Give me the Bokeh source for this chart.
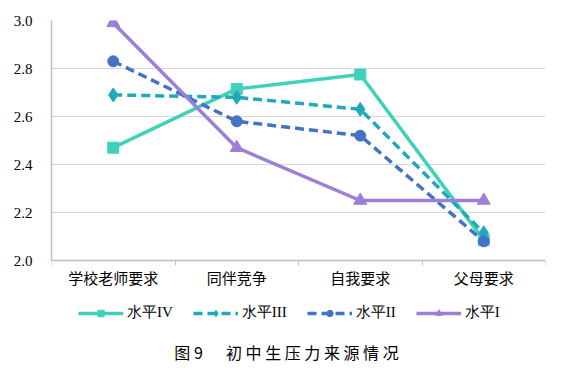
from bokeh.plotting import figure
from bokeh.models import (Range1d, FixedTicker, Legend, LegendItem, Label, LinearAxis)
from bokeh.embed import file_html
from bokeh.resources import INLINE

categories = ["学校老师要求", "同伴竞争", "自我要求", "父母要求"]
series_names = ["水平IV", "水平III", "水平II", "水平I"]
level4 = [2.47, 2.715, 2.775, 2.085]
level3 = [2.69, 2.68, 2.63, 2.115]
level2 = [2.83, 2.58, 2.52, 2.08]
level1 = [2.99, 2.47, 2.25, 2.25]
y_ticks = [2.0, 2.2, 2.4, 2.6, 2.8, 3.0]
NB = "\u00a0"
caption = "图" + NB + "9" + "\u3000" + NB + NB + NB.join("初中生压力来源情况")

Y_MIN, Y_MAX = 2.0, 3.0
PLOT_H = 240      # pixel height of the 2.0..3.0 band
EXTRA_H = 106     # space below the axis for labels, legend, caption
FRAME_H = PLOT_H + EXTRA_H

xs = [i + 0.5 for i in range(len(categories))]

p = figure(frame_width=494, frame_height=FRAME_H, output_backend="svg",
           toolbar_location=None, x_axis_location=None,
           x_range=Range1d(0, len(categories)),
           y_range=Range1d(Y_MIN - (Y_MAX - Y_MIN) * EXTRA_H / PLOT_H, Y_MAX),
           min_border_left=51, min_border_top=20, min_border_right=10,
           min_border_bottom=0)
p.outline_line_color = None
p.background_fill_color = "white"
p.border_fill_color = "white"

xaxis = LinearAxis(fixed_location=Y_MIN)
p.add_layout(xaxis, "below")
xaxis.ticker = FixedTicker(ticks=xs, minor_ticks=list(range(len(categories) + 1)))
xaxis.major_label_overrides = {x: c for x, c in zip(xs, categories)}
xaxis.major_tick_line_color = None
xaxis.minor_tick_in = 0
xaxis.minor_tick_out = 5
xaxis.minor_tick_line_color = "#BFBFBF"
xaxis.axis_line_color = "#BFBFBF"
xaxis.axis_line_width = 1.5
xaxis.major_label_text_font = "Noto Sans CJK SC"
xaxis.major_label_text_font_size = "15px"
xaxis.major_label_text_color = "#000000"
xaxis.major_label_standoff = 0
p.xgrid.grid_line_color = None

p.yaxis.ticker = FixedTicker(ticks=y_ticks)
p.yaxis.bounds = (Y_MIN, Y_MAX)
p.yaxis.major_label_overrides = {t: f"{t:.1f}" for t in y_ticks}
p.yaxis.major_tick_line_color = None
p.yaxis.minor_tick_line_color = None
p.yaxis.axis_line_color = "#BFBFBF"
p.yaxis.axis_line_width = 1.5
p.yaxis.major_label_text_font = "Liberation Serif"
p.yaxis.major_label_text_font_size = "15px"
p.yaxis.major_label_text_font_style = "normal"
p.yaxis.major_label_text_color = "#000000"
p.yaxis.major_label_standoff = 13
p.ygrid.grid_line_color = "#D9D9D9"
p.ygrid.grid_line_width = 1
p.ygrid.ticker = FixedTicker(ticks=y_ticks[1:])

styles = [
    (level4, "#40D2B9", "solid", "square", 11),
    (level3, "#1FAAB9", "9 5", "diamond", 14),
    (level2, "#4472C4", "9 5", "circle", 11),
    (level1, "#9C7FD6", "solid", "triangle", 13),
]

items = []
for name, (vals, color, dash, marker, size) in zip(series_names, styles):
    l = p.line(xs, vals, line_color=color, line_width=3.5, line_dash=dash)
    s = p.scatter(xs, vals, marker=marker, size=size, fill_color=color,
                  line_color=color)
    items.append(LegendItem(label=name, renderers=[l, s]))

legend = Legend(items=items, orientation="horizontal", location=(27, 44),
                glyph_width=45, glyph_height=16, label_standoff=4, spacing=20,
                padding=0, margin=0, border_line_color=None,
                background_fill_alpha=0,
                label_text_font="Liberation Serif", label_text_font_size="15px",
                label_text_color="#000000")
p.add_layout(legend, "center")

cap = Label(x=len(categories) / 2, y=15, x_units="data", y_units="screen",
            x_offset=-12, text=caption, text_align="center",
            text_baseline="middle",
            text_font="Noto Sans CJK SC", text_font_size="16px",
            text_color="#000000")
p.add_layout(cap)

open("out.html", "w").write(file_html(p, INLINE))
